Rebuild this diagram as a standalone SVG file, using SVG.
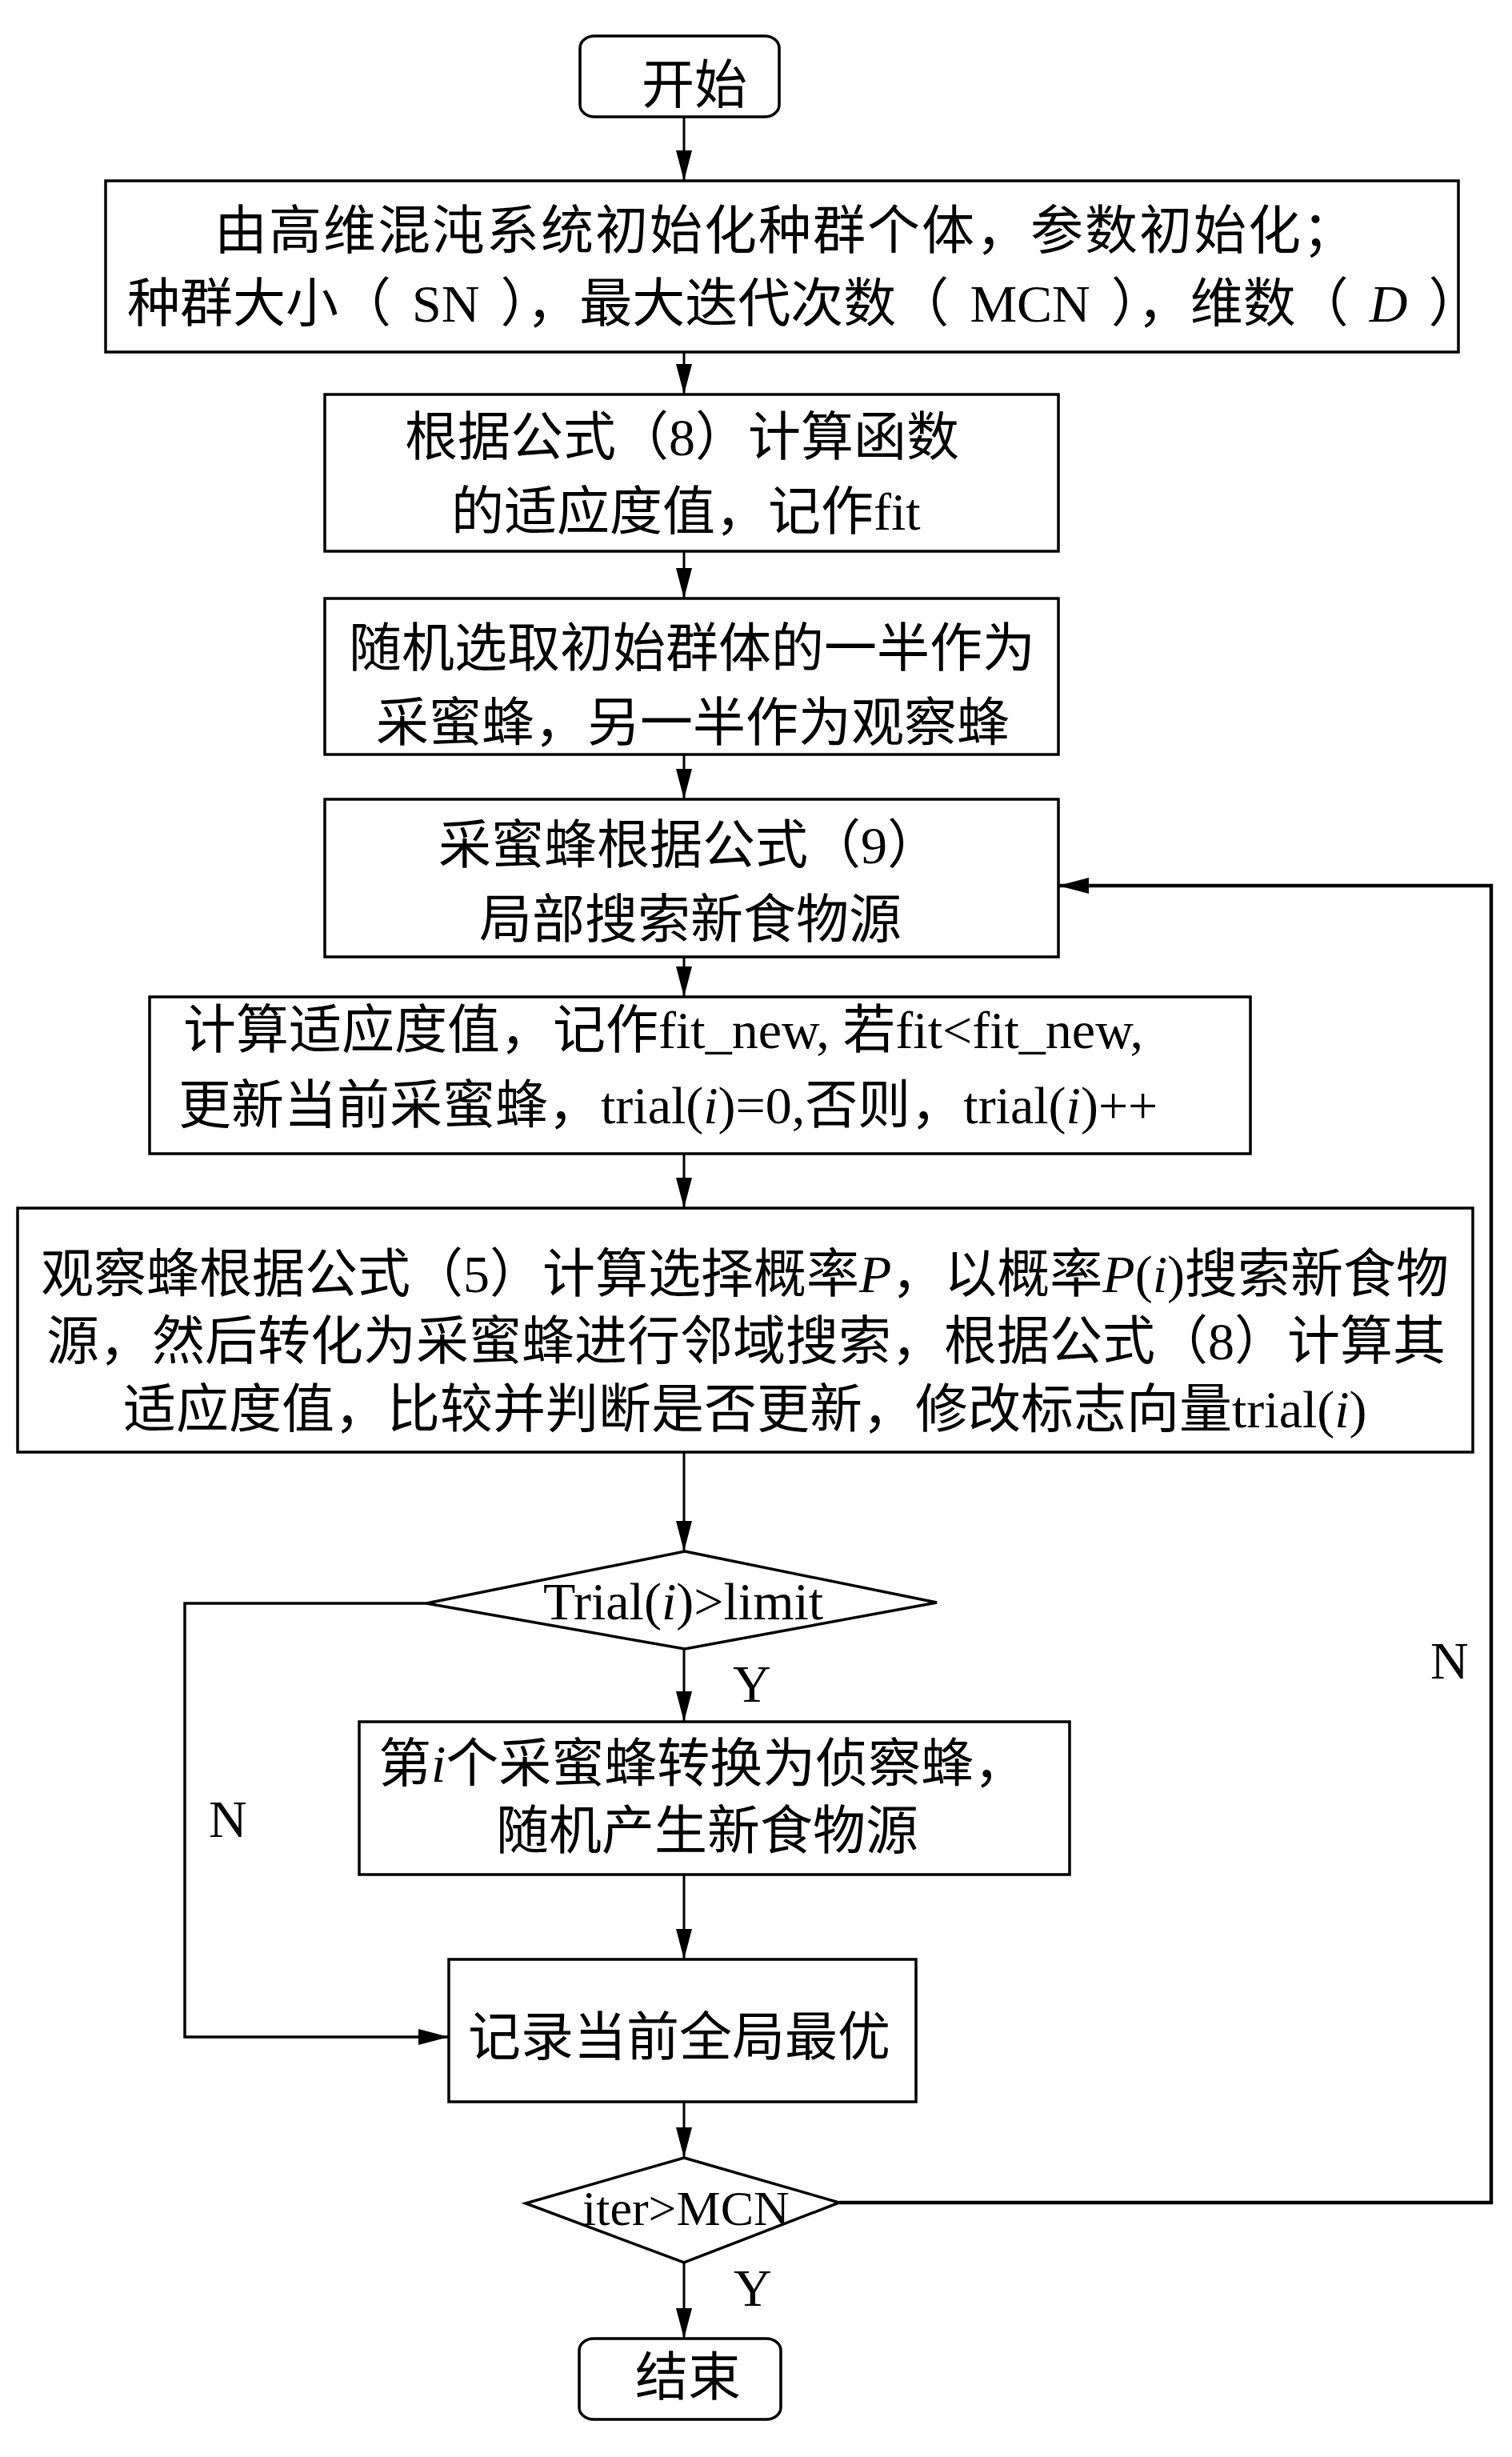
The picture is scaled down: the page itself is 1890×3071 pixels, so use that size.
<svg xmlns="http://www.w3.org/2000/svg" width="1890" height="3071" viewBox="0 0 1890 3071">
<defs>
<style>
.box{fill:#fff;stroke:#000;stroke-width:3.5}
.t{font-family:"Liberation Serif","Noto Sans CJK SC",serif;font-size:66px;fill:#000}
.it{font-style:italic}
.c{fill:none;stroke:#000;stroke-width:3}
.cl{fill:none;stroke:#000;stroke-width:3.5}
.cr{fill:none;stroke:#000;stroke-width:4.5}
</style>
<marker id="a" markerUnits="userSpaceOnUse" markerWidth="40" markerHeight="22" viewBox="0 0 40 22" refX="38" refY="11" orient="auto">
<path d="M0,1 L38,11 L0,21 z" fill="#000"/>
</marker>
</defs>
<rect width="1890" height="3071" fill="#fff"/>
<g id="connectors">
<path class="c" d="M855,146 V226" marker-end="url(#a)"/>
<path class="c" d="M855,440 V493" marker-end="url(#a)"/>
<path class="c" d="M855,689 V748" marker-end="url(#a)"/>
<path class="c" d="M855,943 V999" marker-end="url(#a)"/>
<path class="c" d="M855,1196 V1246" marker-end="url(#a)"/>
<path class="c" d="M855,1442 V1510" marker-end="url(#a)"/>
<path class="c" d="M855,1815 V1939" marker-end="url(#a)"/>
<path class="c" d="M855,2061 V2152" marker-end="url(#a)"/>
<path class="c" d="M855,2343 V2449" marker-end="url(#a)"/>
<path class="c" d="M855,2627 V2697" marker-end="url(#a)"/>
<path class="c" d="M855,2828 V2923" marker-end="url(#a)"/>
<path class="cl" d="M533,2004 H231 V2546 H561" marker-end="url(#a)"/>
<path class="cr" d="M1049,2753 H1864 V1107 H1323" marker-end="url(#a)"/>
<text class="t" x="916" y="2127">Y</text>
<text class="t" x="261" y="2296">N</text>
<text class="t" x="1788" y="2098">N</text>
<text class="t" x="917" y="2882">Y</text>
</g>
<g id="start">
<rect class="box" x="725" y="45" width="249" height="101" rx="18" ry="15"/>
<text class="t" x="802" y="129">开始</text>
</g>
<g id="init">
<rect class="box" x="132" y="226" width="1691" height="214"/>
<text class="t" x="268" y="311" style="letter-spacing:2px">由高维混沌系统初始化种群个体，参数初始化；</text>
<text class="t" x="159" y="402">种群大小（<tspan dx="26">SN</tspan><tspan dx="26">），最大迭代次数（</tspan><tspan dx="26">MCN</tspan><tspan dx="26">），维数（</tspan><tspan dx="26" class="it">D</tspan><tspan dx="26">）</tspan></text>
</g>
<g id="fitness">
<rect class="box" x="406" y="493" width="917" height="196"/>
<text class="t" x="506" y="569">根据公式（8）计算函数</text>
<text class="t" x="564" y="662">的适应度值，记作fit</text>
</g>
<g id="split">
<rect class="box" x="406" y="748" width="917" height="195"/>
<text class="t" x="436" y="833">随机选取初始群体的一半作为</text>
<text class="t" x="470" y="926">采蜜蜂，另一半作为观察蜂</text>
</g>
<g id="employed">
<rect class="box" x="406" y="999" width="917" height="197"/>
<text class="t" x="548" y="1079">采蜜蜂根据公式（9）</text>
<text class="t" x="599" y="1172">局部搜索新食物源</text>
</g>
<g id="update">
<rect class="box" x="187" y="1246" width="1376" height="196"/>
<text class="t" x="229" y="1310">计算适应度值，记作fit_new, 若fit&lt;fit_new,</text>
<text class="t" x="223" y="1404">更新当前采蜜蜂，trial(<tspan class="it">i</tspan>)=0,否则，trial(<tspan class="it">i</tspan>)++</text>
</g>
<g id="onlooker">
<rect class="box" x="22" y="1510" width="1819" height="305"/>
<text class="t" x="51" y="1615">观察蜂根据公式（5）计算选择概率<tspan class="it">P</tspan>，以概率<tspan class="it">P</tspan>(<tspan class="it">i</tspan>)搜索新食物</text>
<text class="t" x="58" y="1699">源，然后转化为采蜜蜂进行邻域搜索，根据公式（8）计算其</text>
<text class="t" x="154" y="1784">适应度值，比较并判断是否更新，修改标志向量trial(<tspan class="it">i</tspan>)</text>
</g>
<g id="cond1">
<polygon class="box" points="856,1939 1171,2003 856,2061 533,2004"/>
<text class="t" x="679" y="2024">Trial(<tspan class="it">i</tspan>)&gt;limit</text>
</g>
<g id="scout">
<rect class="box" x="449" y="2152" width="888" height="191"/>
<text class="t" x="473" y="2227">第<tspan class="it">i</tspan>个采蜜蜂转换为侦察蜂，</text>
<text class="t" x="620" y="2311">随机产生新食物源</text>
</g>
<g id="record">
<rect class="box" x="561" y="2449" width="584" height="178"/>
<text class="t" x="585" y="2569">记录当前全局最优</text>
</g>
<g id="cond2">
<polygon class="box" points="855,2697 1049,2753 855,2828 657,2754"/>
<text class="t" x="728" y="2781" style="font-size:62px">iter&gt;MCN</text>
</g>
<g id="end">
<rect class="box" x="724" y="2923" width="252" height="101" rx="18" ry="15"/>
<text class="t" x="794" y="2994">结束</text>
</g>
</svg>
